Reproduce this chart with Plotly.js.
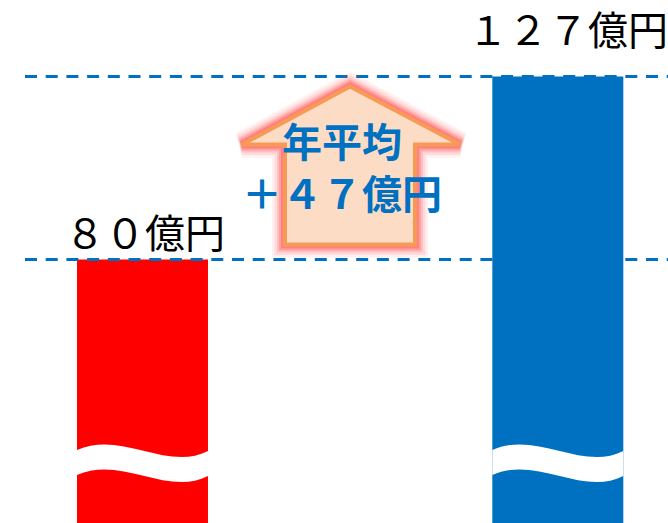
<!DOCTYPE html>
<html><head><meta charset="utf-8">
<script src="https://cdn.plot.ly/plotly-3.0.1.min.js"></script>
<style>html,body{margin:0;padding:0;background:#fff}#chart{width:668px;height:523px}</style>
</head><body><div id="chart"></div>
<script>
// ---- data ----
const categories = ['前', '後'];
const values = [80, 127];
const valueLabels = ['８０億円', '１２７億円'];
const barColors = ['#FF0000', '#0070C0'];
const increaseLabel = ['年平均', '＋４７億円'];

// ---- style / layout helpers ----
const W = 668, H = 523;
const barWidth = 0.3154;
const xRange = [-0.3431, 1.2653];
const yRange = [12.33, 146.65];
const xIdx = categories.map((c, i) => i);
const lo = Math.min(...values), hi = Math.max(...values), diff = hi - lo;
const blue = '#0070C0';
const labelYShift = [29, 49];
const labelXShift = [2, 10];

const traces = [{
  type: 'bar', x: xIdx, y: values, width: barWidth,
  marker: {color: barColors, line: {width: 0}},
  hoverinfo: 'skip', showlegend: false
}];

const shapes = [];
// dashed reference lines at each value
values.forEach(v => shapes.push({
  type: 'line', xref: 'paper', yref: 'y', x0: 25 / W, x1: 1, y0: v, y1: v,
  line: {color: blue, width: 3, dash: '12px,8.7px'}, layer: 'above'
}));

// wave break marks (fractions of bar width, paper y)
function pp(y) { return (H - y) / H; }
xIdx.forEach(i => {
  const L = i - barWidth / 2, R = i + barWidth / 2, w = barWidth;
  const t = [L, L + 0.34 * w, L + 0.69 * w, R];
  const top = [pp(450), pp(430), pp(472), pp(451)];
  const bot = top.map(v => v - 25 / H);
  const path = `M ${t[0]},${top[0]} C ${t[1]},${top[1]} ${t[2]},${top[2]} ${t[3]},${top[3]} ` +
    `L ${t[3]},${bot[3]} C ${t[2]},${bot[2]} ${t[1]},${bot[1]} ${t[0]},${bot[0]} Z`;
  shapes.push({type: 'path', xref: 'x', yref: 'paper', path: path,
    fillcolor: '#FFFFFF', line: {width: 0}, layer: 'above'});
});

// increase arrow (built from the two values)
const yTip = lo + 0.945 * diff, yHead = lo + 0.628 * diff, yBot = lo + 0.082 * diff;
const px = x => x / W;
const arrowPath = `M ${px(350)},${yTip} L ${px(460)},${yHead} L ${px(415)},${yHead} L ${px(415)},${yBot} ` +
  `L ${px(285)},${yBot} L ${px(285)},${yHead} L ${px(242)},${yHead} Z`;
[[26, 0.08], [21, 0.12], [16, 0.18], [12, 0.26], [8, 0.35]].forEach(([lw, a]) =>
  shapes.push({type: 'path', xref: 'paper', yref: 'y', path: arrowPath,
    line: {color: `rgba(255,70,70,${a})`, width: lw}, fillcolor: 'rgba(0,0,0,0)', layer: 'above'}));
shapes.push({type: 'path', xref: 'paper', yref: 'y', path: arrowPath,
  line: {color: '#F79A56', width: 4}, fillcolor: '#FDDCC6', layer: 'above'});

const annotations = values.map((v, i) => ({
  x: xIdx[i], y: v, xref: 'x', yref: 'y', text: valueLabels[i], showarrow: false,
  xanchor: 'center', yanchor: 'middle', yshift: labelYShift[i], xshift: labelXShift[i],
  font: {family: '"Noto Sans CJK JP", sans-serif', size: 40, color: '#000'}
}));
annotations.push({
  x: 342 / W, y: lo + 0.5 * diff, xref: 'paper', yref: 'y',
  text: '<b>' + increaseLabel.join('<br>') + '</b>', showarrow: false,
  xanchor: 'center', yanchor: 'middle', align: 'center', yshift: 2,
  font: {family: '"Noto Sans CJK JP", sans-serif', size: 40, color: blue}
});

const layout = {
  width: W, height: H, margin: {l: 0, r: 0, t: 0, b: 0, pad: 0},
  paper_bgcolor: '#fff', plot_bgcolor: '#fff',
  xaxis: {range: xRange, visible: false, fixedrange: true},
  yaxis: {range: yRange, visible: false, fixedrange: true},
  shapes: shapes, annotations: annotations, showlegend: false
};
Plotly.newPlot('chart', traces, layout, {staticPlot: true, displayModeBar: false});
</script></body></html>
